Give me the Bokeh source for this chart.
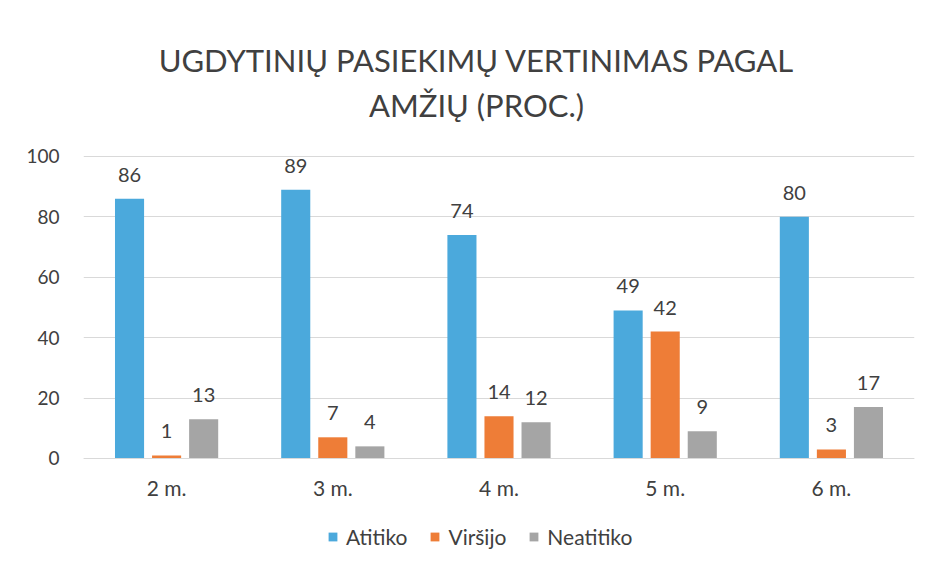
from bokeh.plotting import figure
from bokeh.models import FactorRange, Range1d, ColumnDataSource, Legend, LegendItem, Label, FixedTicker
from bokeh.transform import dodge
from bokeh.core.properties import value
from bokeh.embed import file_html
from bokeh.resources import INLINE

categories = ["2 m.", "3 m.", "4 m.", "5 m.", "6 m."]
atitiko = [86, 89, 74, 49, 80]
virsijo = [1, 7, 14, 42, 3]
neatitiko = [13, 4, 12, 9, 17]
series_names = ["Atitiko", "Viršijo", "Neatitiko"]
series_keys = ["atitiko", "virsijo", "neatitiko"]
colors = ["#4BA9DC", "#EE7D37", "#A5A5A5"]
y_ticks = [0, 20, 40, 60, 80, 100]
title_line1 = "UGDYTINIŲ PASIEKIMŲ VERTINIMAS PAGAL"
title_line2 = "AMŽIŲ (PROC.)"

FONT = "Lato"
TXT = "#404040"

src = ColumnDataSource(dict(
    cat=categories,
    atitiko=atitiko,
    virsijo=virsijo,
    neatitiko=neatitiko,
    atitiko_s=[str(v) for v in atitiko],
    virsijo_s=[str(v) for v in virsijo],
    neatitiko_s=[str(v) for v in neatitiko],
))

# the frame covers the whole chart; the value axis only labels 0..100,
# so the title sits above 100 and the legend below the category axis
p = figure(
    x_range=FactorRange(factors=categories, range_padding=0),
    y_range=Range1d(-33.8, 150.0),
    frame_width=831, frame_height=555,
    output_backend="svg", toolbar_location=None,
    min_border_left=83, min_border_right=16,
    min_border_top=5, min_border_bottom=8,
)
p.title.visible = False

for txt, ys in ((title_line1, 501), (title_line2, 456)):
    p.add_layout(Label(x=393, y=ys, x_units="screen", y_units="screen", text=txt,
                       text_align="center", text_baseline="middle",
                       text_font=FONT, text_font_size="31px", text_color=TXT))

offsets = [-0.223, 0.0, 0.223]
renderers = []
for key, name, col, off in zip(series_keys, series_names, colors, offsets):
    r = p.vbar(x=dodge("cat", off, range=p.x_range), top=key, width=0.175,
               source=src, fill_color=col, line_color=None)
    renderers.append((name, r))
    p.text(x=dodge("cat", off, range=p.x_range), y=key, text=key + "_s", source=src,
           text_align="center", text_baseline="bottom", y_offset=-17,
           text_font=value(FONT), text_font_size="20px", text_color=TXT)

legend = Legend(items=[LegendItem(label=n, renderers=[r]) for n, r in renderers],
                orientation="horizontal", location=(244, 11),
                label_text_font=FONT, label_text_font_size="21px", label_text_color=TXT,
                glyph_width=11, glyph_height=11, spacing=22, label_standoff=8,
                border_line_color=None, background_fill_alpha=0, margin=0, padding=4)
p.add_layout(legend, "center")

p.outline_line_color = None
p.xgrid.grid_line_color = None
p.ygrid.grid_line_color = "#D9D9D9"
p.ygrid.ticker = FixedTicker(ticks=y_ticks)

p.yaxis.ticker = FixedTicker(ticks=y_ticks)
p.yaxis.axis_line_color = None
p.yaxis.major_tick_line_color = None
p.yaxis.minor_tick_line_color = None
p.yaxis.major_label_text_font = FONT
p.yaxis.major_label_text_font_size = "19px"
p.yaxis.major_label_text_color = TXT
p.yaxis.major_label_standoff = 18

p.xaxis.fixed_location = 0
p.xaxis.axis_line_color = "#D9D9D9"
p.xaxis.major_tick_line_color = None
p.xaxis.minor_tick_line_color = None
p.xaxis.major_label_text_font = FONT
p.xaxis.major_label_text_font_size = "21px"
p.xaxis.major_label_text_color = TXT
p.xaxis.major_label_standoff = 11

open("out.html", "w").write(file_html(p, INLINE))
